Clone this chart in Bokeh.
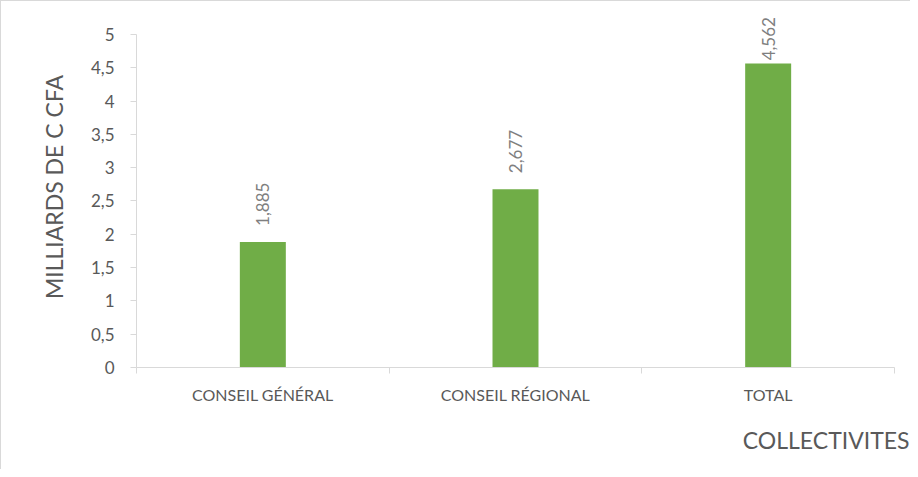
import math
from bokeh.plotting import figure
from bokeh.models import (ColumnDataSource, Range1d, FixedTicker, CustomJSTickFormatter,
                          LabelSet, Title)
from bokeh.core.properties import value
from bokeh.embed import file_html
from bokeh.resources import INLINE

# ---- data ----
categories = ["CONSEIL GÉNÉRAL", "CONSEIL RÉGIONAL", "TOTAL"]
values = [1.885, 2.677, 4.562]
value_labels = ["1,885", "2,677", "4,562"]
y_ticks = [0, 0.5, 1, 1.5, 2, 2.5, 3, 3.5, 4, 4.5, 5]
y_title = "MILLIARDS DE C CFA"
x_title = "COLLECTIVITES"

FONT = "Lato"
AXIS_GREY = "#d9d9d9"
TEXT_GREY = "#595959"
BAR_GREEN = "#70ad47"

n = len(categories)
centers = [i + 0.5 for i in range(n)]
bounds = [float(i) for i in range(n + 1)]

# layout geometry (pixels in the figure)
FRAME_TOP, Y5_PX, FRAME_BOTTOM = 5, 33, 367
y_max = y_ticks[-1]
px_per_unit = (FRAME_BOTTOM - Y5_PX) / y_max
y_end = (FRAME_BOTTOM - FRAME_TOP) / px_per_unit

# data labels sit 16px above the bar, but are pushed down to stay inside the chart
LABEL_LEN, LABEL_GAP, TOP_LIMIT = 46, 16, 13
offsets = []
for v in values:
    top_px = FRAME_BOTTOM - v * px_per_unit
    offsets.append(max(0.0, min(LABEL_GAP, top_px - TOP_LIMIT - LABEL_LEN)))

src = ColumnDataSource(dict(x=centers, top=values, lab=value_labels, off=offsets))

p = figure(width=910, height=469, output_backend="svg", toolbar_location=None,
           x_range=Range1d(0, n), y_range=Range1d(0, y_end),
           min_border_left=135, min_border_right=17, min_border_top=FRAME_TOP,
           min_border_bottom=469 - FRAME_BOTTOM)
p.background_fill_color = "white"
p.border_fill_color = "white"
p.outline_line_color = None
p.xgrid.visible = False
p.ygrid.visible = False
p.styles = {"border-top": "1px solid #d9d9d9", "border-left": "1px solid #d9d9d9"}

p.vbar(x="x", top="top", width=0.182, bottom=0, source=src,
       fill_color=BAR_GREEN, line_color=None)

labels = LabelSet(x="x", y="top", text="lab", source=src, angle=math.pi / 2,
                  text_align="left", text_baseline="middle", y_offset="off",
                  text_font=value(FONT), text_font_size=value("17px"),
                  text_color="#7f7f7f")
p.add_layout(labels)

# x axis
xa = p.xaxis[0]
xa.ticker = FixedTicker(ticks=centers, minor_ticks=bounds)
xa.formatter = CustomJSTickFormatter(args=dict(labels=categories),
                                     code="return labels[Math.floor(tick)];")
xa.axis_line_color = AXIS_GREY
xa.major_tick_out = 0
xa.major_tick_in = 0
xa.minor_tick_out = 6
xa.minor_tick_in = 0
xa.minor_tick_line_color = AXIS_GREY
xa.major_label_text_font = FONT
xa.major_label_text_font_size = "16px"
xa.major_label_text_color = TEXT_GREY
xa.major_label_standoff = 11

# y axis
ya = p.yaxis[0]
ya.bounds = (0, y_max)
ya.ticker = FixedTicker(ticks=y_ticks)
ya.formatter = CustomJSTickFormatter(code="return tick.toString().replace('.', ',');")
ya.axis_line_color = AXIS_GREY
ya.major_tick_line_color = AXIS_GREY
ya.major_tick_out = 6
ya.major_tick_in = 0
ya.minor_tick_line_color = None
ya.major_label_text_font = FONT
ya.major_label_text_font_size = "17px"
ya.major_label_text_color = TEXT_GREY
ya.major_label_standoff = 16
ya.axis_label = y_title
ya.axis_label_text_font = FONT
ya.axis_label_text_font_size = "23px"
ya.axis_label_text_font_style = "normal"
ya.axis_label_text_color = TEXT_GREY
ya.axis_label_standoff = 20

# x title at bottom right
t = Title(text=x_title, align="right", text_font=FONT, text_font_size="23px",
          text_font_style="normal", text_color=TEXT_GREY, standoff=34, offset=-15)
p.add_layout(t, "below")

open("out.html", "w").write(file_html(p, INLINE))
